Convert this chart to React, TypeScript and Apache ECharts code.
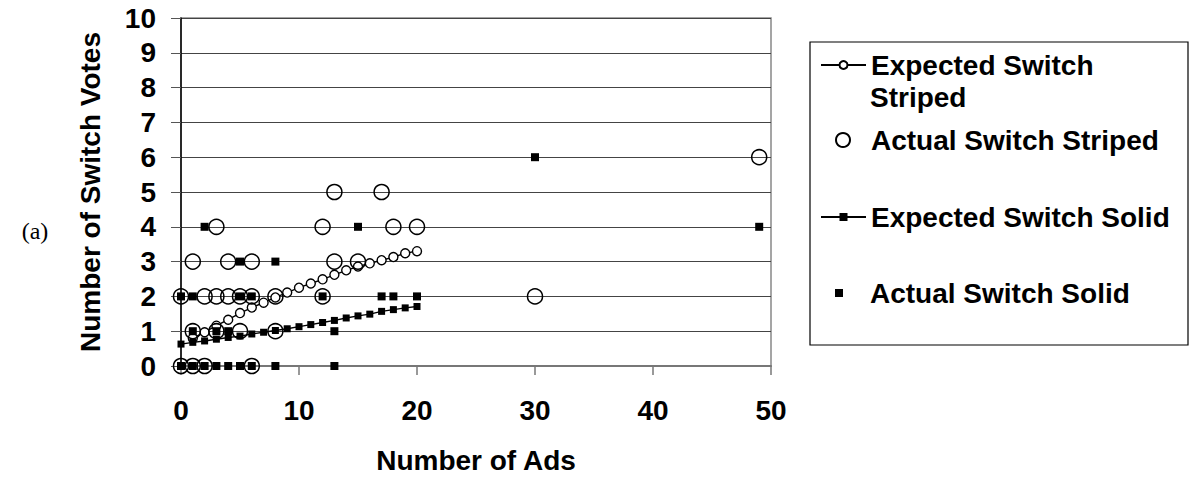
import React, { useEffect, useRef } from "react";
import * as echarts from "echarts";

const xTicks = [0, 10, 20, 30, 40, 50];
const yTicks = [0, 1, 2, 3, 4, 5, 6, 7, 8, 9, 10];

const seriesNames = [
  "Expected Switch Striped",
  "Actual Switch Striped",
  "Expected Switch Solid",
  "Actual Switch Solid",
];

const expStripedX = [1, 2, 3, 4, 5, 6, 7, 8, 9, 10, 11, 12, 13, 14, 15, 16, 17, 18, 19, 20];
const expStripedY = [0.8, 0.97, 1.16, 1.33, 1.52, 1.68, 1.82, 1.97, 2.11, 2.25, 2.37, 2.49, 2.62, 2.75, 2.86, 2.95, 3.04, 3.13, 3.24, 3.3];

const actStripedX = [0, 1, 2, 6, 1, 3, 5, 8, 0, 2, 3, 4, 5, 6, 8, 12, 1, 4, 6, 13, 15, 3, 12, 18, 20, 13, 17, 30, 49];
const actStripedY = [0, 0, 0, 0, 1, 1, 1, 1, 2, 2, 2, 2, 2, 2, 2, 2, 3, 3, 3, 3, 3, 4, 4, 4, 4, 5, 5, 2, 6];

const expSolidX = [0, 1, 2, 3, 4, 5, 6, 7, 8, 9, 10, 11, 12, 13, 14, 15, 16, 17, 18, 19, 20];
const expSolidY = [0.63, 0.68, 0.72, 0.77, 0.82, 0.86, 0.92, 0.97, 1.02, 1.07, 1.13, 1.19, 1.25, 1.31, 1.38, 1.44, 1.49, 1.57, 1.62, 1.67, 1.71];

const actSolidX = [0, 1, 2, 3, 4, 5, 6, 8, 13, 1, 3, 4, 13, 0, 1, 5, 6, 12, 17, 18, 20, 5, 8, 2, 15, 30, 49];
const actSolidY = [0, 0, 0, 0, 0, 0, 0, 0, 0, 1, 1, 1, 1, 2, 2, 2, 2, 2, 2, 2, 2, 3, 3, 4, 4, 6, 4];

const pairs = (xs: number[], ys: number[]) => xs.map((x, i) => [x, ys[i]]);

const FONT = "'Liberation Sans', Arial, sans-serif";

export default function App() {
  const ref = useRef<HTMLDivElement>(null);
  useEffect(() => {
    if (!ref.current) return;
    const chart = echarts.init(ref.current, undefined, { renderer: "svg" });
    const legendTops = [51, 126, 203, 279];
    const legendLefts = [820, 835, 820, 835];
    const legendItemW = [45, 14, 45, 8];
    const legendItemH = [10, 14, 10, 8];
    const legendFormat = ["Expected Switch", "Actual Switch Striped", "Expected Switch Solid", "Actual Switch Solid"];
    const textStart = 870;
    chart.setOption({
      animation: false,
      backgroundColor: "#fff",
      grid: {
        left: 181,
        right: 424,
        top: 18,
        bottom: 110,
        show: true,
        borderColor: "#888",
        borderWidth: 1.5,
        backgroundColor: "transparent",
      },
      xAxis: {
        type: "value",
        min: xTicks[0],
        max: xTicks[xTicks.length - 1],
        interval: 10,
        name: "Number of Ads",
        nameLocation: "middle",
        nameGap: 80,
        nameTextStyle: { fontFamily: FONT, fontWeight: "bold", fontSize: 28, color: "#000", lineHeight: 28 },
        axisLine: { show: true, lineStyle: { color: "#777", width: 2 } },
        axisTick: { show: true, length: 9, lineStyle: { color: "#777", width: 1.5 } },
        axisLabel: { margin: 30, fontFamily: FONT, fontWeight: "bold", fontSize: 28, color: "#000", lineHeight: 28 },
        splitLine: { show: false },
      },
      yAxis: {
        type: "value",
        min: yTicks[0],
        max: yTicks[yTicks.length - 1],
        interval: 1,
        name: "Number of Switch Votes",
        nameLocation: "middle",
        nameGap: 77,
        nameTextStyle: { fontFamily: FONT, fontWeight: "bold", fontSize: 28, color: "#000", lineHeight: 28 },
        axisLine: { show: true, lineStyle: { color: "#000", width: 1.5 } },
        axisTick: { show: true, length: 10, lineStyle: { color: "#555", width: 1 } },
        axisLabel: { margin: 25, fontFamily: FONT, fontWeight: "bold", fontSize: 28, color: "#000", lineHeight: 28 },
        splitLine: { show: true, lineStyle: { color: "#444", width: 1 } },
      },
      legend: seriesNames.map((n, i) => ({
        data: [n],
        left: legendLefts[i],
        top: legendTops[i],
        padding: 0,
        itemWidth: legendItemW[i],
        itemHeight: legendItemH[i],
        itemGap: 0,
        selectedMode: false,
        formatter: () => legendFormat[i],
        textStyle: {
          fontFamily: FONT,
          fontWeight: "bold",
          fontSize: 28,
          color: "#000",
          lineHeight: 28,
          padding: [0, 0, 0, textStart - (legendLefts[i] + legendItemW[i] + 5)],
        },
      })),
      graphic: [
        {
          type: "rect",
          shape: { x: 810, y: 42, width: 378, height: 303 },
          style: { fill: "none", stroke: "#000", lineWidth: 1.2 },
          z: -1,
        },
        {
          type: "text",
          x: textStart,
          y: 97,
          style: {
            text: "Striped",
            font: `bold 28px ${FONT}`,
            fill: "#000",
            verticalAlign: "middle",
            align: "left",
          },
        },
        {
          type: "text",
          x: 35,
          y: 231,
          style: {
            text: "(a)",
            font: "24px 'Liberation Serif', 'Times New Roman', serif",
            fill: "#000",
            verticalAlign: "middle",
            align: "center",
          },
        },
      ],
      series: [
        {
          name: seriesNames[0],
          type: "line",
          data: pairs(expStripedX, expStripedY),
          symbol: "circle",
          symbolSize: 9,
          showAllSymbol: true,
          clip: false,
          lineStyle: { color: "#000", width: 1.4 },
          itemStyle: { color: "#fff", borderColor: "#000", borderWidth: 1.4, opacity: 1 },
          z: 2,
        },
        {
          name: seriesNames[1],
          type: "scatter",
          data: pairs(actStripedX, actStripedY),
          symbol: "circle",
          symbolSize: 15,
          clip: false,
          itemStyle: { color: "rgba(255,255,255,0)", borderColor: "#000", borderWidth: 1.5, opacity: 1 },
          z: 3,
        },
        {
          name: seriesNames[2],
          type: "line",
          data: pairs(expSolidX, expSolidY),
          symbol: "rect",
          symbolSize: 7,
          showAllSymbol: true,
          clip: false,
          lineStyle: { color: "#000", width: 1.4 },
          itemStyle: { color: "#000", opacity: 1 },
          z: 4,
        },
        {
          name: seriesNames[3],
          type: "scatter",
          data: pairs(actSolidX, actSolidY),
          symbol: "rect",
          symbolSize: 8,
          clip: false,
          itemStyle: { color: "#000", opacity: 1 },
          z: 5,
        },
      ],
    });
    return () => chart.dispose();
  }, []);
  return (
    <div
      ref={ref}
      style={{ position: "fixed", left: 0, top: 0, width: 1195, height: 479, background: "#fff" }}
    />
  );
}
